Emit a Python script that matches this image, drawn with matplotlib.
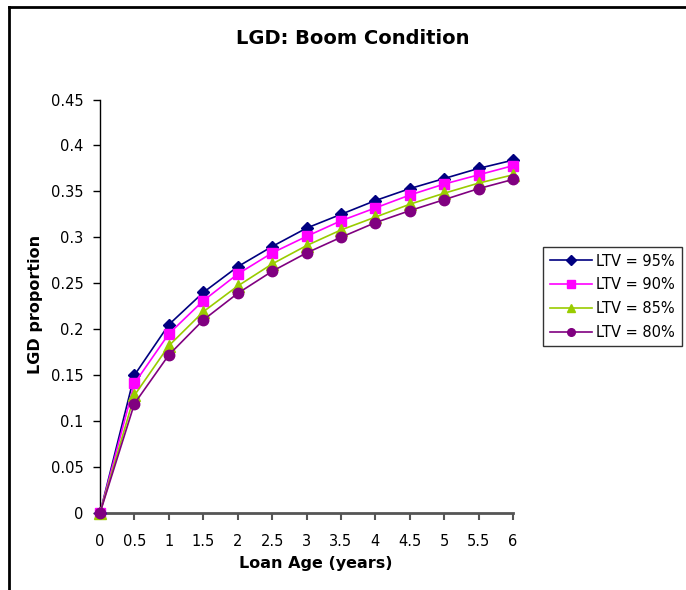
import matplotlib
matplotlib.use("Agg")
import matplotlib.pyplot as plt
from matplotlib.lines import Line2D

plt.rcParams['font.family'] = ['DejaVu Sans']

loan_age = [0, 0.5, 1, 1.5, 2, 2.5, 3, 3.5, 4, 4.5, 5, 5.5, 6]
tick_labels = ["0", "0.5", "1", "1.5", "2", "2.5", "3", "3.5", "4", "4.5", "5", "5.5", "6"]

ltv_95 = [0, 0.150, 0.205, 0.240, 0.268, 0.290, 0.310, 0.325, 0.340, 0.353, 0.364, 0.375, 0.384]
ltv_90 = [0, 0.141, 0.195, 0.231, 0.260, 0.283, 0.301, 0.318, 0.332, 0.346, 0.358, 0.368, 0.378]
ltv_85 = [0, 0.128, 0.182, 0.219, 0.247, 0.271, 0.291, 0.308, 0.322, 0.336, 0.348, 0.359, 0.368]
ltv_80 = [0, 0.119, 0.172, 0.210, 0.239, 0.263, 0.283, 0.300, 0.316, 0.329, 0.341, 0.353, 0.363]

series = [
    ("LTV = 95%", ltv_95, "#000080", "D", 6),
    ("LTV = 90%", ltv_90, "#FF00FF", "s", 7),
    ("LTV = 85%", ltv_85, "#99CC00", "^", 8),
    ("LTV = 80%", ltv_80, "#800080", "o", 7.5),
]

W, H = 686, 590
fig = plt.figure(figsize=(W / 100, H / 100), dpi=100)

# axes box in pixel coordinates
left, right, top, bottom = 100, 513, 99.5, 513
ax = fig.add_axes([left / W, 1 - bottom / H, (right - left) / W, (bottom - top) / H])

for label, vals, color, marker, ms in series:
    ax.plot(loan_age, vals, color=color, marker=marker, markersize=ms,
            linewidth=1.2, label=label, clip_on=False, zorder=3)

ax.set_xlim(0, 6)
ax.set_ylim(0, 0.45)
ax.set_xticks(loan_age)
ax.set_xticklabels(tick_labels)
ax.set_yticks([0, 0.05, 0.1, 0.15, 0.2, 0.25, 0.3, 0.35, 0.4, 0.45])
ax.set_yticklabels(["0", "0.05", "0.1", "0.15", "0.2", "0.25", "0.3", "0.35", "0.4", "0.45"])

for s in ("top", "right"):
    ax.spines[s].set_visible(False)
ax.spines["left"].set_color("black")
ax.spines["left"].set_linewidth(1.0)
ax.spines["bottom"].set_color("#555555")
ax.spines["bottom"].set_linewidth(2.0)
ax.tick_params(axis="y", direction="out", length=5, width=1, color="black",
               labelsize=10.5, pad=7)
ax.tick_params(axis="x", direction="out", length=5, width=1.5, color="#555555",
               labelsize=10.5, pad=10)

ax.set_xlabel("Loan Age (years)", fontsize=11.5, fontweight="bold")
ax.set_ylabel("LGD proportion", fontsize=11.5, fontweight="bold")
ax.xaxis.set_label_coords(0.522, -0.105)
ax.yaxis.set_label_coords(-0.139, 0.505)

fig.text(353 / W, 1 - 39 / H, "LGD: Boom Condition", ha="center", va="center",
         fontsize=14, fontweight="bold")

leg = fig.legend(loc="upper left", bbox_to_anchor=(543 / W, 1 - 247 / H),
                 fontsize=10.5, frameon=True, fancybox=False, edgecolor="black",
                 handlelength=2.9, handletextpad=0.3, labelspacing=0.6,
                 borderpad=0.45, borderaxespad=0)
leg.get_frame().set_linewidth(1.0)
for h in leg.legend_handles:
    h.set_markersize(5.5)

# outer chart border (left and top edges)
fig.add_artist(Line2D([8.5 / W, 8.5 / W], [0, 1 - 6.5 / H], transform=fig.transFigure,
                      color="black", linewidth=2))
fig.add_artist(Line2D([8.5 / W, 1], [1 - 6.5 / H, 1 - 6.5 / H], transform=fig.transFigure,
                      color="black", linewidth=2))

fig.savefig("out.png", dpi=100)
